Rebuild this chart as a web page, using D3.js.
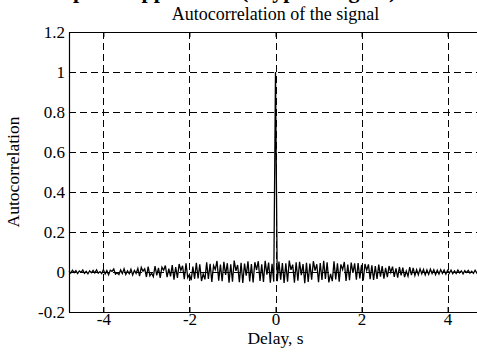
<!DOCTYPE html>
<html>
<head>
<meta charset="utf-8">
<script src="https://cdnjs.cloudflare.com/ajax/libs/d3/7.8.5/d3.min.js"></script>
<style>
  html, body { margin: 0; padding: 0; background: #fff; overflow: hidden; }
  text { font-family: "Liberation Serif", "Times New Roman", serif; fill: #000; }
</style>
</head>
<body>
<div id="chart"></div>
<script>
// sampled delays: first lag and step (s)
const lagStart = -4.8;
const lagStep = 0.04;

// autocorrelation values, in thousandths, one per lag
const acfValues = [
  4, -6, 9, -3, 7, -8, 5, -2, 10, -7, 3, -9, 6, -4, 8, -5, 11, -6, 2, -8,
  12, -10, 7, -14, 9, 3, 15, -11, -4, -13, 10, -8, 16, -12, 6, -9, 14, -15, 8, -7,
  18, -21, 23, 4, 16, -25, 27, -19, -6, -23, 30, -17, 21, -29, 24, 9, 32, -26, 17, -22,
  34, -38, 24, -29, 40, 8, 31, -36, 43, -28, -12, -41, 27, -34, 46, -32, 38, -45, -10, -37,
  48, -35, 41, -50, 32, 12, 55, -43, 37, -46, 51, -14, 44, -53, 39, -48, 57, 6, 35, -51,
  46, -55, 42, -18, 53, -47, 40, -52, 49, 10, 54, -45, 38, -50, 56, -13, 47, -54, 41, -48,
  1000,
  -46, 52, -39, 45, -55, 43, -49, 57, 11, 37, -53, 48, -44, 51, -16, 40, -56, 46, -50, 42,
  -38, 54, 7, 39, -51, 45, -40, 56, -35, 49, -52, -9, -46, 53, -37, 44, -48, 38, 12, 50,
  -45, 37, -41, 47, -4, 43, -39, 45, -32, 36, -42, 40, 8, 38, -36, 33, -40, 29, -35, 37,
  -23, 29, -33, 21, -26, 30, -2, 27, -24, 18, -28, 25, -17, 22, -26, 5, -21, 24, -16, 20,
  -17, 12, -14, 16, -9, 13, -15, 10, -12, 14, -8, 11, -13, 9, -10, 12, -7, 10, -11, 8,
  -6, 9, -8, 5, -7, 10, -4, 6, -9, 7, -3, 8, -6, 4, -7, 9, -5, 6, -8, 3
];

const xTicks = [-4, -2, 0, 2, 4];
const yTicks = [-0.2, 0, 0.2, 0.4, 0.6, 0.8, 1, 1.2];
const xDomain = [-4.8, 4.8];
const yDomain = [-0.2, 1.2];

const figTitle = "Example of application (a typical signal)";
const axTitle = "Autocorrelation of the signal";
const xLabel = "Delay, s";
const yLabel = "Autocorrelation";

function drawChart() {
  const W = 477, H = 356;
  const margin = { top: 32, left: 69 };
  const width = 413, height = 280;

  const points = acfValues.map((v, i) => ({ lag: lagStart + i * lagStep, r: v / 1000 }));

  const svg = d3.select("#chart")
    .append("svg")
    .attr("width", W)
    .attr("height", H);

  const xScale = d3.scaleLinear().domain(xDomain).range([0, width]);
  const yScale = d3.scaleLinear().domain(yDomain).range([height, 0]);

  // figure title, only its descenders are left in the picture
  svg.append("text")
    .attr("x", 18)
    .attr("y", -2)
    .style("font-size", "22px")
    .style("font-weight", "bold")
    .text(figTitle);

  const g = svg.append("g")
    .attr("transform", "translate(" + margin.left + "," + margin.top + ")");

  // dashed grid
  g.selectAll("vgrid")
    .data(xTicks)
    .enter()
    .append("line")
    .attr("x1", (d) => Math.round(xScale(d)) + 0.5)
    .attr("x2", (d) => Math.round(xScale(d)) + 0.5)
    .attr("y1", 0)
    .attr("y2", height)
    .attr("stroke", "#000")
    .attr("stroke-width", 1)
    .attr("stroke-dasharray", "7,4");

  g.selectAll("hgrid")
    .data(yTicks.filter((d) => d > yDomain[0] && d < yDomain[1]))
    .enter()
    .append("line")
    .attr("x1", 0)
    .attr("x2", width)
    .attr("y1", (d) => Math.round(yScale(d)) + 0.5)
    .attr("y2", (d) => Math.round(yScale(d)) + 0.5)
    .attr("stroke", "#000")
    .attr("stroke-width", 1)
    .attr("stroke-dasharray", "7,4");

  // the signal
  const line = d3.line()
    .x((d) => xScale(d.lag))
    .y((d) => yScale(d.r));

  g.append("path")
    .datum(points)
    .attr("d", line)
    .attr("fill", "none")
    .attr("stroke", "#000")
    .attr("stroke-width", 1.3);

  // axes, ticks pointing inward
  const fmt = (d) => String(d);

  const xAxis = g.append("g")
    .attr("transform", "translate(0," + height + ")")
    .call(d3.axisBottom(xScale).tickValues(xTicks).tickFormat(fmt).tickSizeInner(-5).tickSizeOuter(0).tickPadding(1));
  xAxis.selectAll("text").style("font-size", "17px");

  g.append("g")
    .call(d3.axisTop(xScale).tickValues(xTicks).tickSizeInner(-5).tickSizeOuter(0).tickFormat(""));

  const yAxis = g.append("g")
    .call(d3.axisLeft(yScale).tickValues(yTicks).tickFormat(fmt).tickSizeInner(-5).tickSizeOuter(0).tickPadding(4));
  yAxis.selectAll("text").style("font-size", "17px");

  svg.selectAll(".domain").attr("stroke", "#000").attr("stroke-width", 1.2);
  svg.selectAll(".tick line").attr("stroke", "#000");

  // axes title and labels
  g.append("text")
    .attr("x", xScale(0))
    .attr("y", -12)
    .attr("text-anchor", "middle")
    .style("font-size", "18px")
    .text(axTitle);

  g.append("text")
    .attr("x", xScale(0))
    .attr("y", height + 32)
    .attr("text-anchor", "middle")
    .style("font-size", "17.5px")
    .text(xLabel);

  g.append("text")
    .attr("transform", "translate(" + (-50) + "," + (height / 2) + ") rotate(-90)")
    .attr("text-anchor", "middle")
    .style("font-size", "17.5px")
    .text(yLabel);
}

drawChart();
</script>
</body>
</html>
